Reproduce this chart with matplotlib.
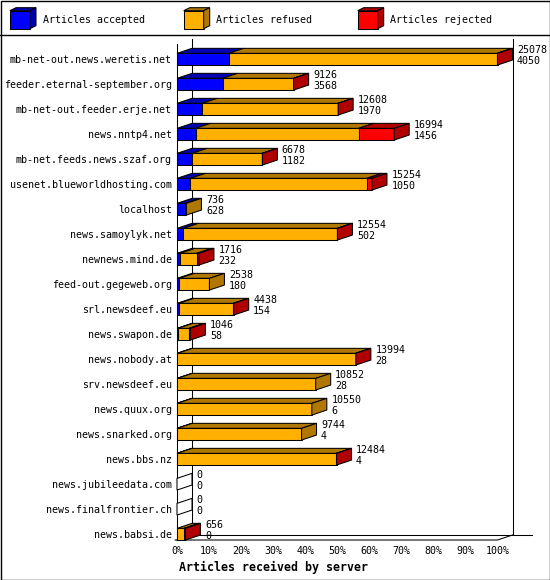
import numpy as np
import matplotlib
matplotlib.use('Agg')
import matplotlib.pyplot as plt
from matplotlib.patches import Polygon, Rectangle

# ── Data ──────────────────────────────────────────────────────────────────────
servers = [
    'mb-net-out.news.weretis.net', 'feeder.eternal-september.org',
    'mb-net-out.feeder.erje.net', 'news.nntp4.net', 'mb-net.feeds.news.szaf.org',
    'usenet.blueworldhosting.com', 'localhost', 'news.samoylyk.net',
    'newnews.mind.de', 'feed-out.gegeweb.org', 'srl.newsdeef.eu',
    'news.swapon.de', 'news.nobody.at', 'srv.newsdeef.eu', 'news.quux.org',
    'news.snarked.org', 'news.bbs.nz', 'news.jubileedata.com',
    'news.finalfrontier.ch', 'news.babsi.de',
]
accepted = [4050, 3568, 1970, 1456, 1182, 1050, 628, 502, 232, 180,
            154, 58, 28, 28, 6, 4, 4, 0, 0, 0]
refused = [21008, 5548, 10618, 12762, 5476, 13794, 108, 12042, 1309, 2358,
           4264, 888, 13946, 10824, 10544, 9740, 12460, 0, 0, 548]
rejected = [20, 10, 20, 2776, 20, 410, 0, 10, 175, 0,
            20, 100, 20, 0, 0, 0, 20, 0, 0, 108]
xticks = list(range(0, 101, 10))

series = [
    ('Articles accepted', accepted, '#0000ff', '#0000b0'),
    ('Articles refused', refused, '#ffb000', '#b07800'),
    ('Articles rejected', rejected, '#ff0000', '#b00000'),
]

# ── Geometry (pixels -> data units) ───────────────────────────────────────────
W, H = 550, 580
PX_PCT = 3.205          # pixels per percent
PX_ROW = 25.0           # pixels per row
DX = 15 / PX_PCT        # 3D depth
DY = -5 / PX_ROW
BAR_H = 11.7 / PX_ROW
YTOP = -0.596
YBASE = 19.232
LW = 0.75
FONT = 'DejaVu Sans Mono'

total = [a + r + j for a, r, j in zip(accepted, refused, rejected)]
scale = 100.0 / max(total)

fig = plt.figure(figsize=(W / 100, H / 100), dpi=100)

# background / frame
bg = fig.add_axes([0, 0, 1, 1])
bg.set_xlim(0, W)
bg.set_ylim(H, 0)
bg.axis('off')
bg.add_patch(Rectangle((0.5, 0.5), W - 1, H - 1, fill=False, ec='black', lw=1.0))
bg.plot([0, W], [34.7, 34.7], color='black', lw=1.0)

# legend cubes
for (label, _, face, dark), x0 in zip(series, [10, 183.7, 357.7]):
    y0, fw, fh, dx, dy = 10.7, 20, 18, 6, -3
    bg.add_patch(Polygon([(x0, y0), (x0 + fw, y0), (x0 + fw + dx, y0 + dy), (x0 + dx, y0 + dy)],
                         closed=True, fc=dark, ec='black', lw=LW))
    bg.add_patch(Rectangle((x0, y0), fw, fh, fc=face, ec='black', lw=LW))
    bg.add_patch(Polygon([(x0 + fw, y0), (x0 + fw, y0 + fh), (x0 + fw + dx, y0 + fh + dy),
                          (x0 + fw + dx, y0 + dy)], closed=True, fc=dark, ec='black', lw=LW))
    bg.text(x0 + 32.6, 20, label, fontsize=7.2, family=FONT, va='center', ha='left')

# ── Main chart ────────────────────────────────────────────────────────────────
ax = fig.add_axes([177 / W, 40 / H, 320.5 / W, 495.7 / H])
ax.patch.set_visible(False)
ax.set_xlim(0, 100)
ax.set_ylim(YBASE, YTOP)
for s in ax.spines.values():
    s.set_visible(False)

# walls
wall = dict(color='black', lw=LW, clip_on=False, zorder=1)
ax.plot([0, 0], [YTOP, YBASE], **wall)
ax.plot([DX, DX], [YTOP + DY, YBASE + DY], **wall)
ax.plot([100 + DX, 100 + DX], [YTOP + DY, YBASE + DY], **wall)
ax.plot([DX, 100 + DX + 19 / PX_PCT], [YBASE + DY, YBASE + DY], **wall)
ax.plot([-0.6, 100, 100 + DX], [YBASE, YBASE, YBASE + DY], **wall)
ax.plot([0, DX], [YBASE, YBASE + DY], **wall)

# bars
for i in range(len(servers)):
    top = i - BAR_H / 2
    bot = i + BAR_H / 2
    left = 0.0
    last_dark = None
    for _, vals, face, dark in series:
        w = vals[i] * scale
        if w <= 0:
            continue
        ax.add_patch(Polygon([(left, top), (left + w, top), (left + w + DX, top + DY),
                              (left + DX, top + DY)], closed=True, fc=dark, ec='black',
                             lw=LW, zorder=3, clip_on=False))
        ax.barh(i, w, left=left, height=BAR_H, color=face, edgecolor='black',
                linewidth=LW, zorder=4, clip_on=False)
        left += w
        last_dark = dark
    side_fc = last_dark if last_dark is not None else 'white'
    ax.add_patch(Polygon([(left, top), (left, bot), (left + DX, bot + DY), (left + DX, top + DY)],
                         closed=True, fc=side_fc, ec='black', lw=LW, zorder=5, clip_on=False))
    tx = left + DX + 4.5 / PX_PCT
    ax.text(tx, i - 9 / PX_ROW, str(total[i]), fontsize=7.2, family=FONT,
            va='center', ha='left', zorder=6, clip_on=False)
    ax.text(tx, i + 1.5 / PX_ROW, str(accepted[i]), fontsize=7.2, family=FONT,
            va='center', ha='left', zorder=6, clip_on=False)

ax.set_yticks(range(len(servers)))
ax.set_yticklabels(servers, fontsize=7.2, family=FONT)
ax.set_xticks(xticks)
ax.set_xticklabels([f'{t}%' for t in xticks], fontsize=7.2, family=FONT)
ax.tick_params(axis='y', length=0, pad=3.6)
ax.tick_params(axis='x', length=0, pad=4.5)

fig.text(179 / W, 1 - 567.3 / H, 'Articles received by server', fontsize=8.4,
         family=FONT, weight='bold', ha='left', va='center')

fig.savefig('out.png', dpi=100)
